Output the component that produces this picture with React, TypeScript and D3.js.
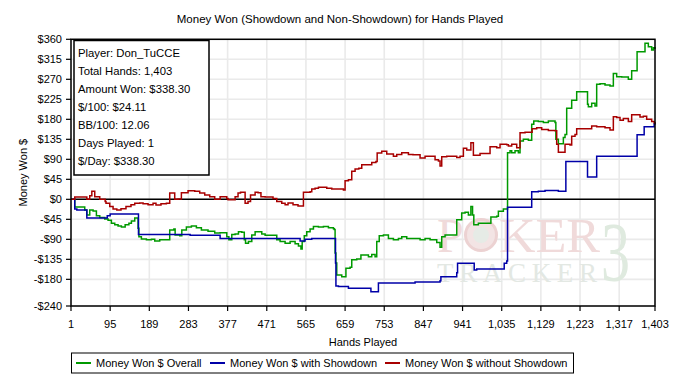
import * as d3 from 'd3';

const W = 675;
const H = 392;

// hands on the x axis, money ($) on the y axis
const handTicks = [1, 95, 189, 283, 377, 471, 565, 659, 753, 847, 941, 1035, 1129, 1223, 1317, 1403];
const moneyTicks = [-240, -180, -135, -90, -45, 0, 45, 90, 135, 180, 225, 270, 315, 360];

const statLines = [
  'Player: Don_TuCCE',
  'Total Hands: 1,403',
  'Amount Won: $338.30',
  '$/100: $24.11',
  'BB/100: 12.06',
  'Days Played: 1',
  '$/Day: $338.30',
];

const seriesNames = ['Money Won $ Overall', 'Money Won $ with Showdown', 'Money Won $ without Showdown'];
const seriesColors = ['#009900', '#0000a8', '#a80000'];

// [hand, $] pairs (step lines)
const overall: [number, number][] = [
  [1, 0], [10, -17], [34, -24], [39, -35], [46, -24], [54, -26], [62, -37], [70, -41], [82, -44], [90, -47],
  [98, -54], [106, -57], [114, -60], [122, -62], [131, -57], [140, -54], [146, -49], [154, -42], [162, -65],
  [164, -84], [170, -89], [182, -91], [194, -90], [202, -94], [214, -91], [238, -69], [248, -67], [251, -80],
  [262, -82], [267, -69], [278, -62], [290, -60], [302, -64], [314, -69], [330, -72], [346, -76], [359, -75],
  [375, -84], [380, -91], [387, -79], [395, -78], [403, -73], [411, -74], [417, -91], [420, -99], [427, -95],
  [435, -80], [443, -73], [459, -78], [467, -81], [495, -91], [503, -95], [515, -99], [527, -95], [539, -100],
  [547, -105], [553, -112], [556, -95], [561, -82], [567, -73], [575, -67], [583, -61], [595, -62], [607, -61],
  [619, -64], [631, -66], [633, -68], [635, -121], [637, -143], [639, -170], [651, -174], [661, -155],
  [671, -153], [675, -136], [687, -134], [697, -125], [715, -129], [723, -124], [731, -129], [735, -95],
  [741, -82], [751, -80], [763, -88], [775, -91], [787, -88], [795, -84], [807, -88], [839, -91], [851, -88],
  [863, -91], [879, -97], [887, -108], [891, -84], [899, -80], [927, -46], [939, -31], [947, -29], [955, -35],
  [961, -16], [965, -35], [968, -57], [979, -54], [1009, -40], [1023, -38], [1027, -27], [1039, -22],
  [1049, 105], [1055, 109], [1059, 105], [1067, 109], [1075, 105], [1079, 131], [1087, 135], [1099, 133],
  [1107, 169], [1112, 176], [1123, 175], [1135, 173], [1147, 176], [1163, 173], [1165, 135], [1171, 125],
  [1183, 139], [1187, 146], [1191, 205], [1203, 223], [1215, 242], [1241, 214], [1243, 208], [1251, 216],
  [1259, 210], [1263, 259], [1271, 260], [1283, 257], [1295, 255], [1303, 283], [1311, 276], [1323, 275],
  [1339, 270], [1347, 289], [1360, 332], [1379, 351], [1387, 343], [1395, 336], [1399, 341], [1403, 338],
];

const withShowdown: [number, number][] = [
  [1, 0], [10, -22], [15, -24], [39, -42], [88, -37], [95, -33], [163, -79], [287, -81], [359, -88],
  [551, -94], [563, -90], [579, -88], [636, -143], [637, -195], [643, -196], [667, -200], [721, -208],
  [739, -188], [827, -186], [887, -183], [889, -174], [927, -165], [929, -144], [969, -159], [975, -157],
  [1041, -144], [1047, -139], [1049, -18], [1107, 17], [1123, 18], [1139, 20], [1171, 18], [1189, 85],
  [1241, 50], [1263, 97], [1360, 145], [1377, 163], [1401, 170], [1403, 168],
];

const withoutShowdown: [number, number][] = [
  [1, 0], [10, 5], [34, 5], [39, 0], [46, 8], [51, 18], [58, 6], [70, 0], [83, -5], [85, -9], [94, -16],
  [102, -22], [111, -24], [121, -21], [133, -16], [145, -12], [154, -9], [166, -8], [174, -10], [186, -12],
  [198, -9], [205, -13], [217, -10], [230, -9], [238, 14], [250, 0], [258, 1], [266, 15], [282, 19], [298, 18],
  [310, 14], [322, 10], [334, 6], [346, 0], [359, 6], [375, 2], [378, -1], [395, 6], [402, 14], [408, 16],
  [419, -9], [426, -5], [432, 10], [443, 16], [450, 15], [457, 6], [467, 5], [486, 2], [495, -5], [507, -9],
  [515, -12], [522, -8], [534, -12], [546, -15], [559, 16], [575, 17], [579, 23], [587, 25], [595, 27],
  [615, 25], [627, 23], [655, 21], [659, 42], [667, 44], [675, 63], [683, 68], [692, 70], [699, 78], [723, 83],
  [733, 85], [736, 104], [747, 108], [759, 102], [775, 97], [783, 101], [795, 105], [811, 101], [822, 100],
  [839, 93], [851, 97], [875, 89], [883, 86], [887, 75], [891, 96], [903, 97], [927, 94], [935, 97], [943, 115],
  [951, 111], [961, 127], [967, 99], [983, 103], [1007, 118], [1023, 116], [1031, 124], [1047, 123],
  [1051, 120], [1059, 124], [1071, 116], [1079, 150], [1091, 151], [1108, 159], [1119, 161], [1131, 157],
  [1147, 155], [1163, 154], [1167, 124], [1171, 106], [1187, 124], [1199, 122], [1203, 142], [1211, 146],
  [1215, 159], [1251, 165], [1263, 163], [1283, 161], [1295, 156], [1303, 186], [1311, 184], [1319, 178],
  [1327, 182], [1339, 175], [1347, 190], [1367, 185], [1375, 187], [1383, 180], [1395, 175], [1401, 172],
  [1403, 170],
];

const FONT = '"Liberation Sans", Arial, sans-serif';
const SERIF = '"Liberation Serif", "DejaVu Serif", serif';

export default function App() {
  const left = 71;
  const right = 655;
  const top = 39.3;
  const bottom = 306;

  const x = d3.scaleLinear().domain([1, 1403]).range([left, right]);
  const y = d3.scaleLinear().domain([-240, 360]).range([bottom, top]);

  const stepLine = d3
    .line<[number, number]>()
    .x(d => x(d[0]))
    .y(d => y(d[1]))
    .curve(d3.curveStepAfter);

  const fmtHand = d3.format(',');
  const fmtMoney = (v: number) => (v < 0 ? `-$${-v}` : `$${v}`);

  const series = [overall, withShowdown, withoutShowdown];

  // legend item starts
  const legendX = [76, 210, 385];

  return (
    <svg
      width={W}
      height={H}
      style={{ position: 'absolute', left: 0, top: 0, background: '#fff' }}
      fontFamily={FONT}
    >
      <rect x={0} y={0} width={W} height={H} fill="#fff" />

      <text x={340} y={23} textAnchor="middle" fontSize={11.5} fill="#000">
        Money Won (Showdown and Non-Showdown) for Hands Played
      </text>

      {/* grid */}
      {moneyTicks.map(t => (
        <line key={'gy' + t} x1={left} x2={right} y1={y(t)} y2={y(t)} stroke="#eaeaea" strokeWidth={1.6} />
      ))}
      {handTicks.map(t => (
        <line key={'gx' + t} x1={x(t)} x2={x(t)} y1={top} y2={bottom} stroke="#eaeaea" strokeWidth={1.6} />
      ))}

      {/* watermark */}
      <g>
        <text x={437} y={252} fontFamily={SERIF} fontSize={48} fill="#f0dada">
          P
        </text>
        <circle cx={481} cy={235} r={15.5} fill="#f3e4e4" stroke="#ecd2d2" strokeWidth={3} />
        <circle cx={481} cy={235} r={8} fill="#e6ebe6" />
        <text x={499} y={252} fontFamily={SERIF} fontSize={48} fill="#f0dada" textLength={101} lengthAdjust="spacingAndGlyphs">
          KER
        </text>
        <text transform="translate(601,281) scale(1,1.45)" fontFamily={SERIF} fontSize={58} fill="#dfeadf">
          3
        </text>
        <text x={437} y={282} fontFamily={SERIF} fontSize={27} fill="#e3e8e3" textLength={160} lengthAdjust="spacing">
          TRACKER
        </text>
      </g>

      {/* zero line */}
      <line x1={left} x2={right} y1={y(0)} y2={y(0)} stroke="#000" strokeWidth={1.5} />

      {/* series */}
      {series.map((s, i) => (
        <path key={i} d={stepLine(s) ?? ''} fill="none" stroke={seriesColors[i]} strokeWidth={1.5} />
      ))}

      {/* frame */}
      <rect x={left} y={top} width={right - left} height={bottom - top} fill="none" stroke="#000" strokeWidth={1.5} />

      {/* y axis ticks */}
      {moneyTicks.map(t => (
        <g key={'ty' + t}>
          <line x1={left - 5} x2={left} y1={y(t)} y2={y(t)} stroke="#000" strokeWidth={1.2} />
          <text x={left - 9} y={y(t)} dy="0.35em" textAnchor="end" fontSize={11} fill="#000">
            {fmtMoney(t)}
          </text>
        </g>
      ))}

      {/* x axis ticks */}
      {handTicks.map(t => (
        <g key={'tx' + t}>
          <line x1={x(t)} x2={x(t)} y1={bottom} y2={bottom + 5} stroke="#000" strokeWidth={1.2} />
          <text x={x(t)} y={328} textAnchor="middle" fontSize={11} fill="#000">
            {fmtHand(t)}
          </text>
        </g>
      ))}

      <text x={(left + right) / 2} y={346} textAnchor="middle" fontSize={11} fill="#000">
        Hands Played
      </text>
      <text transform={`translate(27,${(top + bottom) / 2}) rotate(-90)`} textAnchor="middle" fontSize={11} fill="#000">
        Money Won $
      </text>

      {/* info box */}
      <rect x={74} y={40.5} width={135} height={134.5} fill="#fff" stroke="#000" strokeWidth={1.5} />
      {statLines.map((s, i) => (
        <text key={s} x={78} y={57 + i * 18} fontSize={11.3} fill="#000">
          {s}
        </text>
      ))}

      {/* legend */}
      <rect x={71.5} y={353} width={502} height={20} fill="#fff" stroke="#000" strokeWidth={1} />
      {seriesNames.map((n, i) => (
        <g key={n}>
          <line x1={legendX[i]} x2={legendX[i] + 15} y1={363} y2={363} stroke={seriesColors[i]} strokeWidth={2} />
          <text x={legendX[i] + 20} y={367} fontSize={11} fill="#000">
            {n}
          </text>
        </g>
      ))}
    </svg>
  );
}
